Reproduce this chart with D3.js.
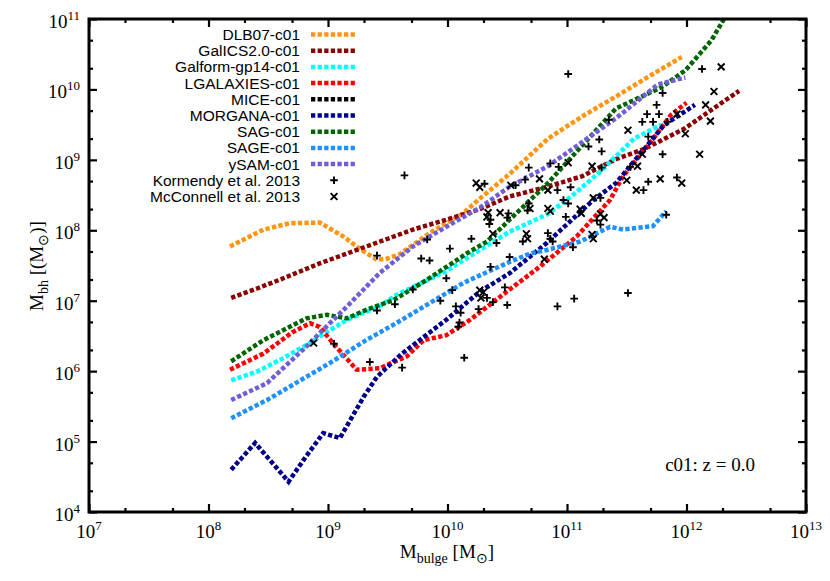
<!DOCTYPE html>
<html>
<head>
<meta charset="utf-8">
<script src="https://d3js.org/d3.v7.min.js"></script>
<style>
  body { margin: 0; background: #fff; }
  .tick-label { font-family: "Liberation Serif", "Times New Roman", serif; font-size: 19px; }
  .axis-title { font-family: "Liberation Serif", "Times New Roman", serif; font-size: 19px; }
  .legend text { font-family: "Liberation Sans", Arial, sans-serif; font-size: 15.5px; }
</style>
</head>
<body>
<div id="chart"></div>
<script>
// model names and colours (legend order)
const models = ["DLB07-c01", "GalICS2.0-c01", "Galform-gp14-c01", "LGALAXIES-c01", "MICE-c01",
                "MORGANA-c01", "SAG-c01", "SAGE-c01", "ySAM-c01"];
const colors = ["#ff9412", "#8b0000", "#00ffff", "#ff0000", "#000000",
                "#00008b", "#006400", "#1e90ff", "#6f5fd6"];

// curves as [log10 Mbulge, log10 Mbh]
const dlb07 = [[8.18,7.77],[8.46,8.01],[8.68,8.10],[8.93,8.11],[9.13,7.91],[9.28,7.72],[9.41,7.58],[9.50,7.60],
  [9.60,7.66],[9.85,7.96],[10.13,8.24],[10.27,8.45],[10.52,8.80],[10.84,9.30],[11.13,9.62],[11.41,9.90],[11.70,10.20],[11.96,10.46]];
const galics = [[8.19,7.04],[8.40,7.17],[8.60,7.30],[8.93,7.53],[9.32,7.77],[9.71,8.01],[9.99,8.15],[10.27,8.30],
  [10.52,8.48],[10.84,8.62],[11.13,8.77],[11.41,9.01],[11.64,9.15],[11.98,9.44],[12.20,9.70],[12.44,9.98]];
const galform = [[8.19,5.87],[8.40,5.99],[8.60,6.16],[8.85,6.40],[8.93,6.49],[9.16,6.73],[9.43,6.92],[9.57,7.08],
  [9.99,7.42],[10.27,7.72],[10.52,7.98],[10.84,8.23],[11.05,8.50],[11.27,8.82],[11.56,9.30],[11.79,9.50]];
const lgalaxies = [[8.18,6.02],[8.46,6.25],[8.70,6.55],[8.85,6.68],[8.93,6.63],[9.04,6.40],[9.24,6.02],[9.43,6.04],
  [9.66,6.21],[9.80,6.44],[9.99,6.51],[10.19,6.73],[10.52,7.16],[10.77,7.48],[11.08,7.91],[11.36,8.43],[11.47,8.77],
  [11.70,9.25],[11.87,9.64],[12.00,9.81]];
const mice = [];
const morgana = [[8.19,4.60],[8.39,4.98],[8.67,4.43],[8.80,4.75],[8.96,5.12],[9.10,5.05],[9.30,5.64],[9.41,5.92],
  [9.62,6.25],[9.99,6.73],[10.27,7.13],[10.52,7.39],[10.83,7.82],[11.22,8.43],[11.41,8.67],[11.81,9.49],[12.07,9.78]];
const sag = [[8.19,6.14],[8.46,6.44],[8.82,6.75],[8.99,6.80],[9.16,6.75],[9.32,6.87],[9.55,7.01],[9.83,7.30],
  [10.16,7.67],[10.33,7.84],[10.52,8.15],[10.84,8.67],[11.41,9.73],[11.79,10.03],[11.99,10.27],[12.21,10.70],[12.33,11.05]];
const sage = [[8.19,5.33],[8.49,5.59],[9.02,6.12],[9.32,6.44],[9.57,6.68],[10.13,7.25],[10.27,7.36],[10.52,7.55],
  [10.69,7.67],[10.83,7.72],[11.11,7.84],[11.36,8.05],[11.47,8.01],[11.72,8.06],[11.83,8.27]];
const ysam = [[8.19,5.59],[8.49,5.83],[8.82,6.35],[8.93,6.54],[9.16,6.92],[9.43,7.39],[9.71,7.77],[9.99,8.05],
  [10.27,8.32],[10.52,8.62],[10.84,8.91],[11.41,9.59],[11.76,10.07],[11.99,10.17]];
const curves = [dlb07, galics, galform, lgalaxies, mice, morgana, sag, sage, ysam];

// observations, [log10 Mbulge, log10 Mbh]
const kormendy = [[9.64,8.78],[10.31,8.66],[10.51,8.24],[10.36,8.15],[9.83,7.87],[10.20,7.88],[10.02,7.74],[10.41,7.82],
  [9.41,7.64],[9.78,7.60],[9.85,7.57],[10.52,7.62],[10.36,7.48],[9.99,7.32],[9.71,7.16],[10.04,7.15],[9.56,6.95],
  [9.41,6.86],[9.94,7.00],[10.33,7.04],[10.38,6.98],[10.48,7.19],[10.50,6.94],[10.07,6.92],[10.11,6.83],[10.10,6.69],
  [10.09,6.63],[10.26,6.88],[9.35,6.13],[9.62,6.05],[10.14,6.19],[9.05,6.39],[11.83,8.22],[11.51,7.11],[11.06,7.03],
  [10.92,6.92],[11.05,7.76],[11.25,8.14],[10.97,8.43],[10.63,7.84],[10.84,7.96],[10.88,7.84],[10.68,8.38],[11.01,10.22],
  [12.13,10.29],[11.80,9.95],[11.75,9.78],[11.67,9.65],[11.77,9.65],[11.63,9.54],[11.72,9.54],[11.84,9.54],[11.68,9.33],
  [11.35,9.57],[11.27,9.29],[11.18,9.19],[11.29,9.12],[11.80,9.08],[11.29,8.89],[11.53,8.90],[10.86,8.95],[10.93,8.90],
  [10.68,8.89],[10.65,8.72],[10.57,8.64],[10.92,8.57],[11.03,8.61],[11.92,8.75],[11.68,8.69],[11.64,8.57],[11.28,8.46],
  [11.01,8.38],[10.67,8.28],[10.50,8.18],[10.35,8.09],[10.99,8.19],[11.28,8.08],[10.86,7.88]];
const mcconnell = [[10.24,8.67],[10.34,8.25],[10.44,8.25],[10.27,7.15],[10.30,7.12],[10.28,7.04],[8.88,6.40],[10.81,7.59],
  [11.21,7.94],[11.28,8.23],[11.11,8.30],[10.84,8.31],[10.66,7.95],[10.38,7.95],[12.29,10.32],[12.23,9.97],[12.16,9.78],
  [12.20,9.55],[11.99,9.37],[12.11,9.08],[11.92,9.65],[11.51,9.42],[11.63,9.08],[11.21,8.91],[11.59,8.91],[11.01,8.96],
  [10.77,8.73],[10.53,8.64],[10.27,8.61],[10.84,8.57],[11.50,8.71],[11.78,8.73],[11.96,8.67],[11.58,8.57],[11.22,8.46],
  [10.69,8.31],[10.33,8.19],[10.86,8.27],[11.12,8.24],[11.31,8.18],[10.67,7.88],[11.22,7.88]];

const xTicks = [7, 8, 9, 10, 11, 12, 13];
const yTicks = [4, 5, 6, 7, 8, 9, 10, 11];

const width = 830, height = 581;
const plotL = 89, plotR = 806, plotT = 19, plotB = 512;

const svg = d3.select("#chart").append("svg").attr("width", width).attr("height", height);

const x = d3.scaleLog().domain([1e7, 1e13]).range([plotL, plotR]);
const y = d3.scaleLog().domain([1e4, 1e11]).range([plotB, plotT]);
const px = d => x(Math.pow(10, d[0]));
const py = d => y(Math.pow(10, d[1]));

svg.append("clipPath").attr("id", "clip").append("rect")
  .attr("x", plotL).attr("y", plotT).attr("width", plotR - plotL).attr("height", plotB - plotT);

// minor ticks at 2x and 5x
const majX = xTicks.map(e => Math.pow(10, e));
const majY = yTicks.map(e => Math.pow(10, e));
const minX = [], minY = [];
xTicks.slice(0, -1).forEach(e => { minX.push(2 * Math.pow(10, e), 5 * Math.pow(10, e)); });
yTicks.slice(0, -1).forEach(e => { minY.push(2 * Math.pow(10, e), 5 * Math.pow(10, e)); });

function ticks(axis, vals, size, tr) {
  const g = svg.append("g").attr("transform", tr)
    .call(axis.tickValues(vals).tickSize(-size).tickFormat(""));
  g.select(".domain").remove();
  g.selectAll(".tick line").attr("stroke", "#000").attr("stroke-width", 2.2);
}
ticks(d3.axisBottom(x), majX, 8, `translate(0,${plotB})`);
ticks(d3.axisBottom(x), minX, 4, `translate(0,${plotB})`);
ticks(d3.axisTop(x), majX, 8, `translate(0,${plotT})`);
ticks(d3.axisTop(x), minX, 4, `translate(0,${plotT})`);
ticks(d3.axisLeft(y), majY, 8, `translate(${plotL},0)`);
ticks(d3.axisLeft(y), minY, 4, `translate(${plotL},0)`);
ticks(d3.axisRight(y), majY, 8, `translate(${plotR},0)`);
ticks(d3.axisRight(y), minY, 4, `translate(${plotR},0)`);

// tick labels
xTicks.forEach(e => {
  const t = svg.append("text").attr("class", "tick-label")
    .attr("x", x(Math.pow(10, e))).attr("y", 538).attr("text-anchor", "middle");
  t.append("tspan").text("10");
  t.append("tspan").attr("dy", -8).attr("font-size", 13).text(e);
});
yTicks.forEach(e => {
  const t = svg.append("text").attr("class", "tick-label")
    .attr("x", 80).attr("y", y(Math.pow(10, e)) + 9).attr("text-anchor", "end");
  t.append("tspan").text("10");
  t.append("tspan").attr("dy", -8).attr("font-size", 13).text(e);
});

// model curves
const line = d3.line().x(px).y(py);
const curveG = svg.append("g").attr("clip-path", "url(#clip)");
curves.forEach((c, i) => {
  if (!c.length) return;
  curveG.append("path").datum(c)
    .attr("d", line)
    .attr("fill", "none")
    .attr("stroke", colors[i])
    .attr("stroke-width", 4.5)
    .attr("stroke-dasharray", "4.3,2.3");
});

// observations
const plusPath = s => `M${-s},0H${s}M0,${-s}V${s}`;
const crossPath = s => `M${-s},${-s}L${s},${s}M${-s},${s}L${s},${-s}`;
svg.append("g").selectAll("path").data(kormendy).join("path")
  .attr("transform", d => `translate(${px(d)},${py(d)})`)
  .attr("d", plusPath(3.8)).attr("stroke", "#000").attr("stroke-width", 1.9);
svg.append("g").selectAll("path").data(mcconnell).join("path")
  .attr("transform", d => `translate(${px(d)},${py(d)})`)
  .attr("d", crossPath(3.4)).attr("stroke", "#000").attr("stroke-width", 1.9);

// frame
svg.append("rect").attr("x", plotL).attr("y", plotT).attr("width", plotR - plotL).attr("height", plotB - plotT)
  .attr("fill", "none").attr("stroke", "#000").attr("stroke-width", 3);

// legend
const legend = svg.append("g").attr("class", "legend");
const labels = models.concat(["Kormendy et al. 2013", "McConnell et al. 2013"]);
labels.forEach((name, i) => {
  const yy = 34.5 + i * 16.2;
  legend.append("text").attr("x", 300).attr("y", yy + 5.5).attr("text-anchor", "end").text(name);
  if (i < models.length) {
    legend.append("line").attr("x1", 311).attr("x2", 357).attr("y1", yy).attr("y2", yy)
      .attr("stroke", colors[i]).attr("stroke-width", 4.5).attr("stroke-dasharray", "4.3,2.3");
  } else {
    legend.append("path").attr("transform", `translate(334,${yy})`)
      .attr("d", i === models.length ? plusPath(3.8) : crossPath(3.4))
      .attr("stroke", "#000").attr("stroke-width", 1.9);
  }
});

// axis titles
const xt = svg.append("text").attr("class", "axis-title").attr("x", 447).attr("y", 558).attr("text-anchor", "middle");
xt.append("tspan").text("M");
xt.append("tspan").attr("dy", 5).attr("font-size", 14).text("bulge");
xt.append("tspan").attr("dy", -5).text(" [M");
xt.append("tspan").attr("dy", 5).attr("font-size", 14).text("\u2299");
xt.append("tspan").attr("dy", -5).text("]");

const yt = svg.append("text").attr("class", "axis-title")
  .attr("transform", "translate(43,266) rotate(-90)").attr("text-anchor", "middle");
yt.append("tspan").text("M");
yt.append("tspan").attr("dy", 5).attr("font-size", 14).text("bh");
yt.append("tspan").attr("dy", -5).text(" [(M");
yt.append("tspan").attr("dy", 5).attr("font-size", 14).text("\u2299");
yt.append("tspan").attr("dy", -5).text(")]");

svg.append("text").attr("class", "axis-title").attr("x", 755).attr("y", 471)
  .attr("text-anchor", "end").attr("font-size", 18).text("c01: z = 0.0");
</script>
</body>
</html>
